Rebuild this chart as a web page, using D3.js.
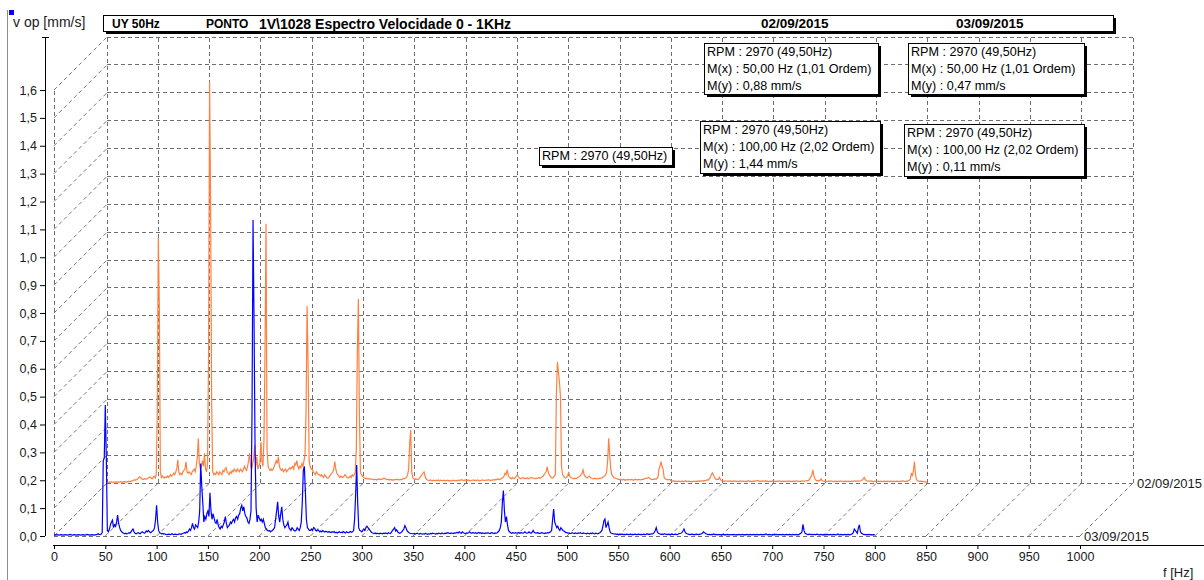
<!DOCTYPE html>
<html>
<head>
<meta charset="utf-8">
<script src="https://cdn.jsdelivr.net/npm/d3@7"></script>
<style>
  body { margin: 0; background: #fff; }
  svg { display: block; font-family: "Liberation Sans", Arial, sans-serif; }
</style>
</head>
<body>
<svg id="chart" width="1204" height="580"></svg>
<script>
// ---- data -------------------------------------------------------------
const machine = "UY 50Hz";
const pointLabel = "PONTO";
const measurement = "1V\\1028 Espectro Velocidade 0 - 1KHz";
const seriesDates = ["02/09/2015", "03/09/2015"];
const rpm = 2970;
const runSpeedHz = 49.5;
const markerFreqs = [50, 100];
const freqStep = 1; // Hz between spectrum lines, starting at 0 Hz

const xTicks = [0, 50, 100, 150, 200, 250, 300, 350, 400, 450, 500, 550, 600, 650, 700, 750, 800, 850, 900, 950, 1000];
const yTicks = [0, 0.1, 0.2, 0.3, 0.4, 0.5, 0.6, 0.7, 0.8, 0.9, 1.0, 1.1, 1.2, 1.3, 1.4, 1.5, 1.6];

// velocity spectrum 02/09/2015 (mm/s, 0..800 Hz)
const spectrum0209 = [
  .002,.003,.002,.003,.004,.003,.002,.003,.004,.003,
  .003,.004,.003,.005,.004,.003,.004,.005,.004,.003,
  .005,.006,.005,.007,.006,.008,.01,.012,.01,.013,
  .015,.02,.022,.018,.015,.012,.014,.016,.013,.015,
  .018,.02,.022,.018,.015,.02,.025,.018,.03,.255,
  .88,.64,.04,.02,.025,.02,.018,.022,.02,.025,
  .02,.025,.03,.025,.028,.035,.03,.04,.05,.083,
  .04,.03,.035,.03,.04,.045,.05,.076,.04,.035,
  .04,.035,.03,.04,.045,.05,.04,.06,.09,.16,
  .07,.05,.06,.08,.06,.107,.05,.04,.07,.47,
  1.44,1.0,.29,.04,.03,.035,.03,.04,.035,.03,
  .04,.035,.03,.045,.04,.05,.055,.04,.035,.03,
  .04,.035,.045,.04,.05,.045,.04,.05,.045,.04,
  .05,.045,.04,.05,.06,.05,.045,.06,.08,.107,
  .06,.05,.07,.09,.136,.06,.094,.05,.06,.07,
  .148,.08,.06,.154,.466,.93,.12,.06,.05,.045,
  .05,.045,.05,.06,.07,.08,.07,.094,.06,.05,
  .045,.05,.04,.045,.05,.04,.045,.05,.055,.05,
  .055,.06,.05,.07,.065,.08,.06,.05,.06,.055,
  .07,.06,.08,.1,.256,.635,.426,.08,.06,.05,
  .05,.04,.035,.03,.04,.035,.03,.03,.025,.03,
  .025,.02,.03,.025,.02,.018,.02,.025,.03,.035,
  .04,.05,.077,.05,.035,.03,.025,.02,.025,.02,
  .02,.025,.03,.025,.02,.018,.02,.025,.02,.03,
  .025,.03,.04,.12,.47,.66,.25,.04,.03,.025,
  .02,.018,.015,.017,.014,.016,.013,.015,.014,.012,
  .013,.012,.014,.011,.013,.015,.012,.014,.013,.015,
  .018,.015,.013,.012,.014,.011,.013,.012,.01,.012,
  .011,.013,.012,.014,.012,.011,.013,.012,.014,.016,
  .015,.018,.02,.03,.05,.142,.19,.04,.02,.015,
  .012,.015,.013,.012,.015,.02,.025,.03,.035,.04,
  .025,.015,.012,.01,.009,.011,.01,.008,.01,.009,
  .008,.01,.009,.011,.008,.01,.009,.008,.01,.009,
  .008,.009,.01,.008,.009,.007,.008,.01,.009,.008,
  .009,.008,.01,.009,.011,.01,.012,.01,.009,.011,
  .01,.009,.011,.01,.008,.009,.01,.011,.009,.01,
  .009,.011,.01,.008,.009,.01,.011,.01,.009,.01,
  .011,.01,.012,.01,.009,.011,.01,.012,.011,.013,
  .012,.015,.013,.012,.015,.018,.02,.025,.035,.03,
  .047,.03,.02,.018,.015,.02,.017,.015,.02,.025,
  .03,.022,.018,.015,.017,.02,.018,.015,.017,.016,
  .018,.015,.017,.019,.02,.018,.016,.015,.017,.016,
  .018,.02,.017,.019,.022,.025,.03,.035,.04,.058,
  .04,.03,.025,.02,.018,.02,.025,.03,.32,.434,
  .40,.36,.31,.06,.03,.025,.02,.018,.02,.025,
  .04,.025,.02,.018,.016,.015,.017,.016,.018,.02,
  .022,.025,.03,.035,.047,.03,.025,.02,.018,.022,
  .025,.02,.018,.016,.015,.017,.016,.014,.016,.015,
  .017,.016,.018,.02,.022,.025,.03,.04,.083,.16,
  .1,.05,.03,.025,.02,.018,.016,.015,.014,.013,
  .012,.014,.011,.013,.012,.01,.012,.011,.013,.012,
  .011,.013,.012,.01,.012,.014,.012,.011,.013,.012,
  .011,.012,.014,.013,.015,.017,.016,.018,.02,.016,
  .014,.013,.012,.014,.015,.013,.016,.02,.05,.06,
  .077,.06,.05,.02,.015,.013,.012,.011,.013,.012,
  .007,.006,.008,.006,.007,.005,.006,.007,.006,.005,
  .006,.007,.005,.006,.008,.006,.005,.007,.006,.005,
  .006,.005,.007,.006,.005,.007,.006,.008,.006,.007,
  .008,.007,.009,.008,.01,.012,.01,.015,.02,.03,
  .037,.03,.02,.015,.012,.014,.013,.02,.012,.009,
  .008,.007,.006,.008,.007,.006,.007,.008,.006,.007,
  .006,.008,.007,.006,.007,.005,.006,.008,.007,.006,
  .007,.006,.005,.007,.006,.008,.006,.007,.005,.006,
  .007,.006,.008,.007,.009,.008,.006,.007,.006,.008,
  .007,.006,.008,.006,.007,.005,.006,.007,.006,.008,
  .007,.006,.005,.007,.006,.008,.007,.006,.005,.007,
  .006,.007,.005,.006,.008,.007,.006,.005,.007,.006,
  .007,.006,.008,.007,.006,.005,.007,.006,.008,.007,
  .006,.007,.009,.008,.01,.015,.022,.03,.047,.025,
  .015,.01,.008,.009,.007,.01,.015,.009,.007,.006,
  .007,.006,.005,.007,.006,.008,.007,.006,.005,.007,
  .006,.007,.005,.006,.007,.008,.006,.005,.007,.006,
  .007,.006,.005,.007,.006,.005,.007,.006,.008,.007,
  .006,.007,.008,.006,.007,.009,.011,.015,.02,.012,
  .008,.007,.008,.006,.007,.008,.006,.005,.007,.006,
  .005,.006,.007,.005,.006,.007,.005,.006,.007,.005,
  .006,.007,.005,.006,.007,.005,.006,.007,.005,.006,
  .007,.006,.005,.007,.006,.008,.007,.006,.005,.007,
  .006,.008,.01,.014,.036,.025,.045,.077,.03,.012,
  .008,.007,.006,.007,.006,.005,.006,.005,.004,.003,
  .002
];

// velocity spectrum 03/09/2015 (mm/s, 0..800 Hz)
const spectrum0309 = [
  .004,.003,.004,.005,.004,.003,.004,.005,.004,.003,
  .004,.005,.004,.003,.004,.005,.006,.004,.003,.004,
  .005,.004,.003,.004,.005,.004,.003,.004,.005,.004,
  .003,.004,.006,.005,.004,.003,.004,.005,.004,.003,
  .004,.005,.006,.008,.006,.005,.007,.012,.27,.28,
  .47,.28,.02,.015,.025,.04,.05,.057,.03,.04,
  .035,.05,.075,.045,.03,.02,.015,.012,.01,.008,
  .01,.008,.009,.012,.01,.015,.02,.025,.015,.01,
  .008,.01,.012,.01,.008,.012,.015,.013,.01,.012,
  .018,.015,.02,.016,.012,.014,.018,.02,.03,.06,
  .11,.05,.02,.012,.01,.008,.009,.007,.008,.006,
  .005,.006,.007,.005,.006,.008,.006,.005,.007,.006,
  .005,.006,.008,.007,.006,.009,.01,.012,.01,.015,
  .012,.018,.025,.02,.03,.045,.03,.025,.04,.035,
  .03,.05,.09,.26,.18,.12,.05,.07,.06,.08,
  .09,.07,.155,.09,.06,.08,.065,.05,.045,.06,
  .04,.03,.025,.035,.03,.04,.05,.07,.045,.03,
  .035,.04,.05,.045,.055,.06,.05,.065,.07,.06,
  .075,.08,.1,.11,.09,.105,.08,.07,.065,.05,
  .045,.06,.09,.44,1.134,.76,.3,.1,.05,.075,
  .065,.055,.06,.05,.06,.045,.03,.025,.02,.018,
  .02,.015,.018,.02,.025,.03,.06,.09,.123,.07,
  .05,.08,.105,.06,.04,.03,.035,.04,.05,.03,
  .025,.02,.03,.025,.02,.018,.02,.03,.025,.02,
  .03,.05,.12,.235,.25,.16,.06,.03,.025,.02,
  .02,.025,.02,.03,.028,.02,.018,.022,.02,.015,
  .018,.015,.02,.016,.014,.017,.015,.013,.016,.014,
  .012,.015,.013,.016,.012,.014,.011,.013,.015,.012,
  .014,.012,.016,.013,.011,.015,.013,.012,.014,.016,
  .013,.015,.02,.06,.15,.255,.12,.03,.02,.018,
  .015,.02,.025,.02,.03,.035,.03,.025,.02,.015,
  .012,.01,.009,.011,.008,.01,.009,.008,.01,.009,
  .008,.01,.009,.011,.01,.008,.012,.01,.009,.015,
  .02,.025,.03,.018,.022,.015,.012,.01,.012,.015,
  .02,.025,.037,.03,.02,.015,.012,.01,.009,.008,
  .008,.009,.007,.008,.01,.008,.007,.009,.008,.007,
  .008,.007,.009,.008,.006,.008,.007,.009,.008,.01,
  .009,.008,.007,.009,.008,.01,.009,.008,.011,.009,
  .008,.01,.009,.011,.012,.01,.009,.011,.01,.009,
  .011,.01,.012,.013,.011,.015,.012,.01,.015,.012,
  .01,.009,.011,.01,.012,.015,.011,.01,.012,.011,
  .01,.012,.009,.011,.013,.01,.012,.009,.011,.01,
  .009,.011,.01,.012,.01,.009,.011,.012,.01,.009,
  .011,.01,.012,.015,.02,.03,.05,.12,.163,.09,
  .05,.07,.04,.02,.015,.012,.01,.012,.011,.01,
  .012,.01,.011,.013,.01,.012,.011,.01,.012,.015,
  .012,.01,.011,.015,.012,.01,.014,.02,.013,.011,
  .01,.012,.011,.009,.01,.012,.011,.01,.009,.011,
  .01,.012,.011,.013,.015,.02,.06,.097,.05,.04,
  .03,.035,.025,.02,.03,.025,.02,.018,.015,.012,
  .012,.01,.011,.009,.01,.012,.01,.009,.011,.01,
  .009,.011,.01,.012,.01,.009,.011,.01,.009,.008,
  .01,.009,.008,.01,.009,.011,.009,.008,.01,.009,
  .008,.01,.012,.015,.02,.035,.055,.061,.03,.04,
  .05,.03,.015,.01,.009,.008,.007,.008,.006,.007,
  .006,.007,.005,.006,.007,.005,.006,.005,.007,.006,
  .005,.006,.007,.005,.006,.005,.007,.006,.005,.006,
  .007,.005,.006,.005,.006,.007,.005,.006,.008,.006,
  .007,.006,.008,.007,.009,.012,.02,.03,.015,.01,
  .008,.007,.006,.007,.006,.008,.007,.006,.005,.007,
  .006,.005,.007,.006,.005,.006,.007,.005,.006,.008,
  .009,.01,.012,.018,.025,.015,.01,.008,.007,.006,
  .005,.006,.007,.005,.006,.005,.007,.006,.005,.006,
  .007,.008,.01,.015,.012,.009,.007,.006,.005,.006,
  .005,.006,.005,.007,.005,.006,.005,.004,.006,.005,
  .004,.005,.006,.004,.005,.004,.006,.005,.004,.005,
  .005,.004,.006,.005,.004,.005,.004,.006,.005,.004,
  .005,.006,.004,.005,.004,.006,.005,.004,.005,.006,
  .004,.005,.006,.005,.004,.006,.005,.004,.005,.006,
  .005,.004,.006,.005,.007,.005,.004,.006,.005,.004,
  .005,.006,.004,.005,.006,.005,.004,.006,.005,.004,
  .006,.005,.004,.005,.006,.004,.005,.006,.005,.004,
  .006,.005,.004,.006,.005,.004,.005,.008,.01,.015,
  .042,.02,.01,.008,.006,.005,.007,.006,.005,.006,
  .005,.006,.004,.007,.006,.005,.004,.006,.005,.004,
  .005,.006,.004,.005,.006,.004,.005,.006,.004,.005,
  .006,.005,.004,.005,.007,.005,.004,.006,.005,.004,
  .005,.006,.004,.005,.006,.005,.004,.006,.008,.012,
  .025,.02,.015,.01,.03,.04,.015,.01,.008,.006,
  .005,.006,.004,.005,.006,.005,.004,.005,.004,.005,
  .004
];

// ---- layout -----------------------------------------------------------
const svg = d3.select("#chart");
const W = 1204, H = 580;
svg.append("rect").attr("width", W).attr("height", H).attr("fill", "#fff");

const x = d3.scaleLinear().domain([0, 1000]).range([54, 1080]);
const y = d3.scaleLinear().domain([0, 1.6]).range([536, 90]);
const depth = { dx: 53, dy: -53 };   // offset of the rear spectrum plane
const gridColor = "#6e6e6e";
const dash = "4,3";
const comma = d3.formatLocale({ decimal: ",", thousands: ".", grouping: [3], currency: ["", ""] });
const f1 = comma.format(".1f"), f2 = comma.format(".2f");

// frame line on the left and the small selection marker
svg.append("line").attr("x1", 7.5).attr("x2", 7.5).attr("y1", 10).attr("y2", H)
  .attr("stroke", "#8c8c8c");
svg.append("rect").attr("x", 9).attr("y", 10).attr("width", 5).attr("height", 5).attr("fill", "#0000ff");

// ---- 3D grid ----------------------------------------------------------
const grid = svg.append("g").attr("fill", "none").attr("stroke", gridColor)
  .attr("stroke-dasharray", dash);
const crisp = grid.append("g").attr("shape-rendering", "crispEdges");
const yTop = y(1.6);

// rear wall
xTicks.forEach(f => crisp.append("line")
  .attr("x1", x(f) + depth.dx).attr("x2", x(f) + depth.dx)
  .attr("y1", y(0) + depth.dy).attr("y2", yTop + depth.dy));
yTicks.forEach(v => crisp.append("line")
  .attr("x1", x(0) + depth.dx).attr("x2", x(1000) + depth.dx)
  .attr("y1", y(v) + depth.dy).attr("y2", y(v) + depth.dy));
// left wall
crisp.append("line").attr("x1", x(0)).attr("x2", x(0)).attr("y1", y(0)).attr("y2", yTop);
const diag = grid.append("g").attr("stroke", "#7a7a7a");
yTicks.forEach(v => diag.append("line")
  .attr("x1", x(0)).attr("y1", y(v))
  .attr("x2", x(0) + depth.dx).attr("y2", y(v) + depth.dy));
// floor
crisp.append("line").attr("x1", x(0)).attr("x2", x(1000)).attr("y1", y(0)).attr("y2", y(0));
xTicks.forEach(f => diag.append("line")
  .attr("x1", x(f)).attr("y1", y(0))
  .attr("x2", x(f) + depth.dx).attr("y2", y(0) + depth.dy));

// ---- spectra ----------------------------------------------------------
const line = d3.line().x((d, i) => x(i * freqStep)).y(d => y(d));
svg.append("path").datum(spectrum0209)
  .attr("transform", `translate(${depth.dx},${depth.dy})`)
  .attr("d", line).attr("fill", "none").attr("stroke", "#ff8040").attr("stroke-width", 1.2);
svg.append("path").datum(spectrum0309)
  .attr("d", line).attr("fill", "none").attr("stroke", "#0000ff").attr("stroke-width", 1.2);

// plane labels
svg.append("text").attr("x", x(1000) + depth.dx + 4).attr("y", y(0) + depth.dy + 5)
  .attr("font-size", 13).attr("fill", "#1a1a1a").text(seriesDates[0]);
svg.append("text").attr("x", x(1000) + 4).attr("y", y(0) + 5)
  .attr("font-size", 13).attr("fill", "#1a1a1a").text(seriesDates[1]);

// ---- axes -------------------------------------------------------------
const yAxis = svg.append("g").attr("transform", "translate(45,0)")
  .call(d3.axisLeft(y).tickValues(yTicks).tickSize(5).tickPadding(3).tickFormat(f1));
yAxis.select(".domain").remove();
yAxis.append("line").attr("x1", 0.5).attr("x2", 0.5).attr("y1", 37).attr("y2", y(0))
  .attr("stroke", "#000");
yAxis.append("line").attr("x1", -3).attr("x2", 4).attr("y1", 37.5).attr("y2", 37.5)
  .attr("stroke", "#000");
yAxis.selectAll("text").attr("font-family", null).attr("font-size", 12.5).attr("fill", "#1a1a1a");

const xAxis = svg.append("g").attr("transform", "translate(0,545)")
  .call(d3.axisBottom(x).tickValues(xTicks).tickSize(4).tickPadding(3).tickFormat(d => d));
xAxis.select(".domain").remove();
xAxis.append("line").attr("x1", x(0) - 1).attr("x2", W).attr("y1", 0.5).attr("y2", 0.5)
  .attr("stroke", "#000");
xAxis.selectAll("text").attr("font-family", null).attr("font-size", 12.5).attr("fill", "#1a1a1a");

svg.append("text").attr("x", 13).attr("y", 27).attr("font-size", 14).attr("fill", "#1a1a1a")
  .text("v op [mm/s]");
svg.append("text").attr("x", 1163).attr("y", 577).attr("font-size", 13).attr("fill", "#1a1a1a")
  .text("f [Hz]");

// ---- boxes with drop shadow --------------------------------------------
function shadowBox(bx, by, bw, bh) {
  svg.append("rect").attr("x", bx + 3).attr("y", by + 3).attr("width", bw).attr("height", bh)
    .attr("fill", "#000");
  svg.append("rect").attr("x", bx + 0.5).attr("y", by + 0.5).attr("width", bw).attr("height", bh)
    .attr("fill", "#fff").attr("stroke", "#000");
}

// header
shadowBox(103, 15, 1010, 16);
const header = svg.append("g").attr("font-weight", "bold").attr("fill", "#000");
header.append("text").attr("x", 112).attr("y", 28).attr("font-size", 12).text(machine);
header.append("text").attr("x", 206).attr("y", 28).attr("font-size", 12).text(pointLabel);
header.append("text").attr("x", 259).attr("y", 29).attr("font-size", 14).text(measurement);
header.append("text").attr("x", 761).attr("y", 28).attr("font-size", 13.5).text(seriesDates[0]);
header.append("text").attr("x", 956).attr("y", 28).attr("font-size", 13.5).text(seriesDates[1]);

// marker read-outs
const rpmText = `RPM : ${rpm} (${f2(runSpeedHz)}Hz)`;
const spectra = [spectrum0209, spectrum0309];
function markerLines(s, f) {
  const v = spectra[s][Math.round(f / freqStep)];
  return [rpmText,
          `M(x) : ${f2(f)} Hz (${f2(f / runSpeedHz)} Ordem)`,
          `M(y) : ${f2(v)} mm/s`];
}
const boxes = [
  { x: 704, y: 43, w: 174, h: 51, lines: markerLines(0, markerFreqs[0]) },
  { x: 908, y: 43, w: 176, h: 51, lines: markerLines(1, markerFreqs[0]) },
  { x: 700, y: 121, w: 180, h: 52, lines: markerLines(0, markerFreqs[1]) },
  { x: 904, y: 124, w: 180, h: 52, lines: markerLines(1, markerFreqs[1]) },
  { x: 539, y: 147, w: 133, h: 18, lines: [rpmText] }
];
boxes.forEach(b => {
  shadowBox(b.x, b.y, b.w, b.h);
  b.lines.forEach((t, i) => svg.append("text")
    .attr("x", b.x + 3).attr("y", b.y + 13 + i * 17)
    .attr("font-size", 12.6).attr("fill", "#000").text(t));
});
</script>
</body>
</html>
